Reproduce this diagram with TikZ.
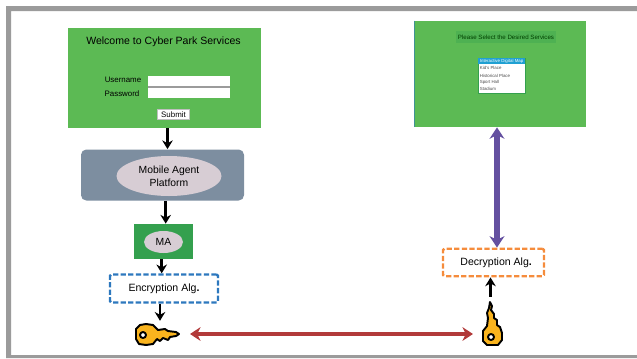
\documentclass[tikz,border=0pt]{standalone}
\usepackage{fontspec}
\setmainfont{Liberation Sans}
\usetikzlibrary{arrows.meta,positioning,shapes.geometric}
\definecolor{screengreen}{RGB}{92,186,84}
\definecolor{agentgreen}{RGB}{52,160,78}
\definecolor{platformgrey}{RGB}{125,142,160}
\definecolor{ellipsepink}{RGB}{215,205,212}
\definecolor{framegrey}{RGB}{155,155,155}
\definecolor{encblue}{RGB}{45,120,190}
\definecolor{decorange}{RGB}{245,140,60}
\definecolor{linkred}{RGB}{178,58,58}
\definecolor{linkpurple}{RGB}{100,80,160}
\definecolor{keygold}{RGB}{250,180,30}
\tikzset{
  fieldbox/.style={fill=white,minimum width=82*0.2mm,minimum height=10*0.2mm,inner sep=0pt},
  formtext/.style={font=\fontsize{4.5}{6}\selectfont},
  listitem/.style={anchor=west,font=\fontsize{2.5}{3}\selectfont,text=black!70,inner sep=0pt},
  algbox/.style={draw=#1,line width=1.35pt,dash pattern=on 3pt off 1.3pt,rounded corners=0.8pt,fill=white,font=\fontsize{6}{7}\selectfont,inner sep=0pt},
  pinkblob/.style={ellipse,fill=ellipsepink,inner sep=0pt,align=center,font=\fontsize{5.9}{7.4}\selectfont},
  flow/.style={-{Stealth[length=5pt,width=6pt]},line width=#1},
  flow/.default=1.7pt,
  bigflow/.style={{Stealth[length=#1,width=1.3*#1]}-{Stealth[length=#1,width=1.3*#1]}},
  keyshape/.style={draw=black,fill=keygold,line width=1.1pt,line join=round,even odd rule},
  keyanchor/.style={inner sep=0pt,minimum size=1pt}
}
\begin{document}
\begin{tikzpicture}[x=0.2mm,y=-0.2mm]
    \useasboundingbox (0,0) rectangle (637,358);
    % frame, open on the right
    \fill [framegrey] (637,6) -- (6,6) -- (6,358) -- (637,358) -- (637,355) -- (11,355) -- (11,11) -- (637,11) -- cycle;
    % login screen
    \node [fill=screengreen,minimum width=193*0.2mm,minimum height=100*0.2mm,inner sep=0pt] (login) at (164,77.5) {};
    \node [font=\fontsize{6}{7}\selectfont] (welcome) at (163.5,42) {Welcome to Cyber Park Services};
    \node [formtext] (username) at (123,80) {Username};
    \node [formtext] (password) at (122,94) {Password};
    \fill [framegrey] (147.7,85) rectangle (229.7,88.5);
    \node [fieldbox] (userfield) at (188.7,81) {};
    \node [fieldbox] (passfield) at (188.7,93) {};
    \node [formtext,fill=white,draw=black!25,line width=0.3pt,minimum width=32*0.2mm,minimum height=10.5*0.2mm,inner sep=0pt] (submit) at (173.5,114.5) {Submit};
    % platform
    \node [fill=platformgrey,rounded corners=3pt,minimum width=163*0.2mm,minimum height=51*0.2mm,inner sep=0pt] (platform) at (162.5,175) {};
    \node [pinkblob,minimum width=105*0.2mm,minimum height=40*0.2mm] (platformtext) at (169,176) {Mobile Agent\\Platform};
    % agent
    \node [fill=agentgreen,minimum width=59*0.2mm,minimum height=35*0.2mm,inner sep=0pt] (agent) at (163.5,241.5) {};
    \node [pinkblob,minimum width=39*0.2mm,minimum height=22*0.2mm] (ma) at (163.5,242) {MA};
    % algorithms
    \node [algbox=encblue,minimum width=108*0.2mm,minimum height=28*0.2mm] (encalg) at (164,288.5) {Encryption Alg\textbf{.}};
    \node [algbox=decorange,minimum width=101*0.2mm,minimum height=27.5*0.2mm] (decalg) at (493.5,262.5) {\hspace*{3pt}Decryption Alg\textbf{.}};
    % service screen
    \node [fill=screengreen,minimum width=171*0.2mm,minimum height=106*0.2mm,inner sep=0pt] (services) at (500.5,74) {};
    \draw [encblue!60!screengreen,line width=0.4pt] (services.north west) -- (services.south west);
    \node [fill=agentgreen!35!screengreen,font=\fontsize{3.5}{4}\selectfont,text=green!25!black,minimum width=100*0.2mm,minimum height=12*0.2mm,inner sep=0pt] (pleasetext) at (506,37) {Please Select the Desired Services};
    \node [fill=white,draw=agentgreen,line width=0.3pt,minimum width=47*0.2mm,minimum height=35*0.2mm,inner sep=0pt] (listbox) at (501.5,75.5) {};
    \fill [encblue!70!cyan] (listbox.north west) rectangle (525,64);
    \node [listitem,text=white] (itemone) at (479.5,61) {Interactive Digital Map};
    \node [listitem] (itemtwo) at (479.5,67.5) {Kid's Place};
    \node [listitem] (itemthree) at (479.5,75.5) {Historical Place};
    \node [listitem] (itemfour) at (479.5,82.5) {Sport Hall};
    \node [listitem] (itemfive) at (479.5,89) {Stadium};
    % keys
    \node [keyanchor] (keyleft) at (160,322) {};
    \node [keyanchor] (keyright) at (490.5,298) {};
    \coordinate (linkleft) at (190,334);
    \coordinate (linkright) at (473,334);
    \draw [keyshape] (146,324) -- (153,325) -- (158,330) -- (165,329) -- (168,331) -- (176,332) -- (179,334) -- (176,336) -- (170,337) -- (168,340) -- (163,338) -- (160,341) -- (157,339) -- (153,344) -- (146,345) -- (139,344) -- (136,339) -- (136,329) -- (140,325) -- cycle (143,335) circle (3);
    \draw [keyshape] (490,302) -- (492,306) -- (491,310) -- (494,314) -- (494,318) -- (497,320) -- (497,325) -- (500,327) -- (502,333) -- (502,340) -- (498,345) -- (487,345) -- (483,341) -- (483,331) -- (487,326) -- (488,318) -- (487,313) -- (489,308) -- cycle (491,337) circle (3);
    % connectors
    \draw [flow=2pt] (login.south -| 167.5,0) -- (platform.north -| 167.5,0);
    \draw [flow=2pt] (platform.south -| 165.7,0) -- (agent.north -| 165.7,0);
    \draw [flow] (agent.south -| 161.7,0) -- (encalg.north -| 161.7,0);
    \draw [flow] (encalg.south -| 160,0) -- (keyleft);
    \draw [flow] (keyright) -- (decalg.south -| keyright);
    \draw [bigflow=6pt,draw=linkred,line width=2.8pt] (linkleft) -- (linkright);
    \draw [bigflow=6.5pt,draw=linkpurple,line width=3.4pt] (services.south -| 497,0) -- (decalg.north -| 497,0);
\end{tikzpicture}
\end{document}
